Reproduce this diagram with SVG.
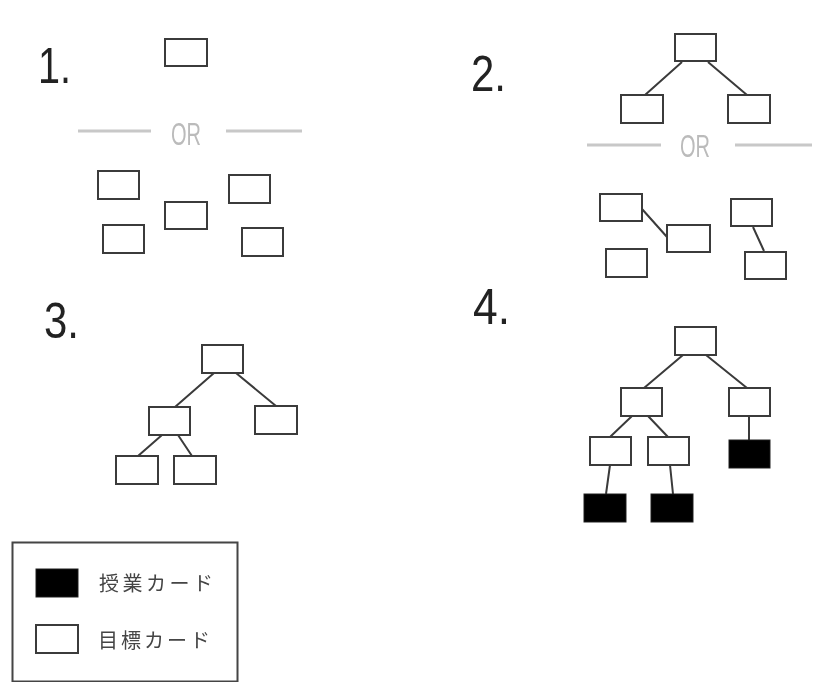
<svg xmlns="http://www.w3.org/2000/svg" width="827" height="682" viewBox="0 0 827 682">
<style>
.c{fill:#fff;stroke:#3a3a3a;stroke-width:2}
.s{fill:#000;stroke:#222;stroke-width:1}
.l{stroke:#3a3a3a;stroke-width:2;fill:none}
.o{stroke:#c8c8c8;stroke-width:3;fill:none}
.n{font-family:"Liberation Sans",Arial,sans-serif;font-size:50px;fill:#222}
.or{font-family:"Liberation Sans",Arial,sans-serif;font-size:32px;fill:#bbb;text-anchor:middle}
.t{font-family:"Noto Sans CJK JP","Noto Sans",sans-serif;font-size:20px;fill:#444}
</style>
<defs><filter id="soft" filterUnits="userSpaceOnUse" x="0" y="0" width="827" height="682"><feGaussianBlur stdDeviation="0.6"/></filter></defs>
<rect width="827" height="682" fill="#fff"/>
<g filter="url(#soft)">
<g id="labels">
<text class="n" x="38" y="83" textLength="33" lengthAdjust="spacingAndGlyphs">1.</text>
<text class="n" x="471" y="91" textLength="35" lengthAdjust="spacingAndGlyphs">2.</text>
<text class="n" x="44" y="338" textLength="35" lengthAdjust="spacingAndGlyphs">3.</text>
<text class="n" x="473" y="324" textLength="37" lengthAdjust="spacingAndGlyphs">4.</text>
<text class="or" x="186" y="145" textLength="30" lengthAdjust="spacingAndGlyphs">OR</text>
<text class="or" x="695" y="157" textLength="30" lengthAdjust="spacingAndGlyphs">OR</text>
</g>
<g id="connectors">
<path class="o" d="M78 131H151M226 131H302M587 145H661M735 145H812"/>
<path class="l" d="M682 62L645 95M708 62L747 95M642 209L667 237M753 227L764 251"/>
<path class="l" d="M214 373L175 407M236 373L276 406M162 435L138 456M178 435L192 456"/>
<path class="l" d="M683 355L644 388M706 355L747 388M749 416V440M632 416L610 437M648 416L668 437M610 465L606 494M670 465L673 494"/>
</g>
<g id="s1">
<rect id="n1" class="c" x="165" y="39" width="42" height="27"/>
<rect id="n2" class="c" x="98" y="171" width="41" height="28"/>
<rect id="n3" class="c" x="229" y="175" width="41" height="28"/>
<rect id="n4" class="c" x="165" y="202" width="42" height="27"/>
<rect id="n5" class="c" x="103" y="225" width="41" height="28"/>
<rect id="n6" class="c" x="242" y="228" width="41" height="28"/>
</g>
<g id="s2">
<rect id="n7" class="c" x="675" y="34" width="41" height="27"/>
<rect id="n8" class="c" x="621" y="95" width="42" height="28"/>
<rect id="n9" class="c" x="728" y="95" width="42" height="28"/>
<rect id="n10" class="c" x="600" y="194" width="42" height="27"/>
<rect id="n11" class="c" x="667" y="225" width="43" height="27"/>
<rect id="n12" class="c" x="606" y="249" width="41" height="28"/>
<rect id="n13" class="c" x="731" y="199" width="41" height="27"/>
<rect id="n14" class="c" x="745" y="252" width="41" height="27"/>
</g>
<g id="s3">
<rect id="n15" class="c" x="202" y="345" width="41" height="28"/>
<rect id="n16" class="c" x="149" y="407" width="41" height="28"/>
<rect id="n17" class="c" x="255" y="406" width="42" height="28"/>
<rect id="n18" class="c" x="116" y="456" width="42" height="28"/>
<rect id="n19" class="c" x="174" y="456" width="42" height="28"/>
</g>
<g id="s4">
<rect id="n20" class="c" x="675" y="327" width="41" height="28"/>
<rect id="n21" class="c" x="621" y="388" width="41" height="28"/>
<rect id="n22" class="c" x="729" y="388" width="41" height="28"/>
<rect id="n23" class="c" x="590" y="437" width="41" height="28"/>
<rect id="n24" class="c" x="648" y="437" width="41" height="28"/>
<rect id="n25" class="s" x="729" y="440" width="41" height="28"/>
<rect id="n26" class="s" x="584" y="494" width="42" height="28"/>
<rect id="n27" class="s" x="651" y="494" width="42" height="28"/>
</g>
<g id="legend">
<rect x="12.500" y="542.500" width="225" height="139" fill="#fff" stroke="#444" stroke-width="2"/>
<rect class="s" x="36" y="569" width="42" height="28"/>
<rect class="c" x="36" y="625" width="42" height="28"/>
<text class="t" x="99" y="591" textLength="114">授業カード</text>
<text class="t" x="98" y="648" textLength="112">目標カード</text>
</g>
</g>
</svg>
